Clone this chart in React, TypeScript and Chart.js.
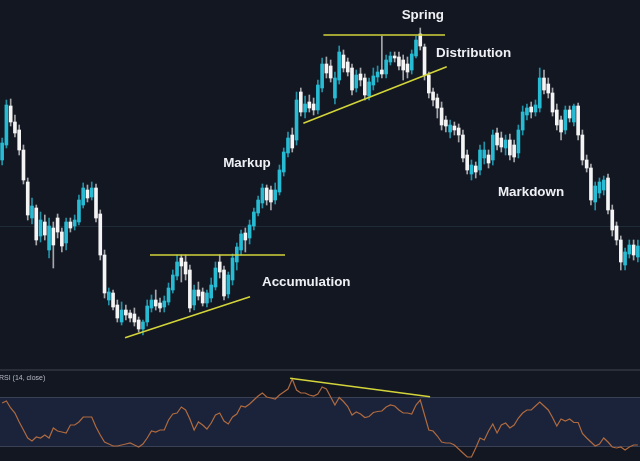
import React, { useEffect, useRef } from "react";
import { Chart, registerables } from "chart.js";

Chart.register(...registerables);

// ---- Price candles (arbitrary price units) ----
const OPEN = [
  210, 225, 264, 248, 240, 220, 188, 152, 162, 134,
  148, 120, 142, 152, 138, 127, 148, 144, 148, 165,
  180, 173, 182, 156, 115, 70, 77, 65, 48, 60,
  57, 56, 50, 41, 48, 62, 70, 67, 63, 68,
  80, 94, 112, 108, 100, 65, 80, 78, 67, 72,
  83, 108, 100, 76, 90, 108, 120, 137, 132, 144,
  157, 167, 182, 180, 170, 178, 198, 217, 235, 230,
  278, 258, 268, 266, 260, 282, 306, 304, 272, 290,
  315, 308, 302, 282, 296, 292, 274, 285, 293, 300,
  296, 308, 314, 313, 310, 306, 300, 314, 336, 323,
  295, 278, 272, 262, 250, 238, 244, 242, 235, 215,
  196, 204, 200, 212, 215, 210, 237, 232, 222, 230,
  225, 217, 240, 255, 263, 258, 262, 292, 286, 277,
  260, 250, 240, 260, 248, 264, 235, 210, 202, 168,
  177, 180, 192, 160, 144, 130, 105, 116, 125, 113,
];
const CLOSE = [
  227, 265, 248, 237, 220, 190, 155, 164, 130, 150,
  135, 144, 125, 138, 124, 148, 142, 150, 170, 182,
  172, 182, 152, 115, 77, 78, 63, 52, 60, 55,
  52, 48, 41, 48, 64, 70, 64, 62, 69, 82,
  95, 108, 104, 96, 62, 80, 74, 67, 77, 85,
  102, 98, 74, 95, 112, 123, 136, 130, 145, 158,
  170, 182, 170, 168, 180, 200, 218, 232, 222, 270,
  258, 266, 262, 260, 285, 306, 297, 292, 292, 318,
  302, 298, 280, 295, 290, 275, 288, 294, 298, 296,
  310, 314, 312, 304, 300, 298, 316, 330, 324, 295,
  277, 270, 262, 245, 244, 245, 240, 235, 212, 200,
  205, 198, 220, 220, 207, 235, 225, 223, 230, 215,
  213, 240, 258, 262, 258, 265, 292, 280, 277, 258,
  245, 238, 260, 252, 264, 235, 210, 202, 170, 184,
  188, 190, 160, 140, 130, 108, 118, 125, 115, 124,
];
const HIGH = [
  232, 270, 271, 255, 245, 225, 192, 172, 165, 158,
  155, 152, 148, 156, 142, 152, 152, 155, 175, 187,
  185, 188, 186, 160, 120, 82, 80, 70, 68, 65,
  60, 62, 53, 50, 70, 75, 80, 72, 74, 87,
  100, 115, 115, 115, 105, 85, 88, 82, 80, 92,
  108, 115, 104, 98, 116, 127, 140, 142, 150, 162,
  174, 186, 185, 184, 187, 205, 222, 238, 242, 278,
  282, 274, 275, 272, 290, 312, 313, 310, 298, 324,
  320, 312, 306, 300, 302, 296, 292, 302, 304, 334,
  315, 318, 318, 318, 315, 313, 320, 334, 342, 326,
  298, 282, 276, 268, 254, 250, 248, 246, 240, 220,
  210, 208, 225, 228, 220, 240, 242, 238, 235, 236,
  230, 245, 264, 266, 268, 270, 302, 300, 292, 282,
  266, 254, 264, 264, 266, 267, 240, 215, 206, 188,
  192, 194, 196, 165, 148, 134, 122, 130, 130, 130,
];
const LOW = [
  205, 222, 244, 233, 215, 186, 150, 146, 125, 128,
  130, 112, 102, 132, 118, 120, 138, 140, 145, 162,
  168, 170, 148, 110, 72, 65, 60, 48, 45, 50,
  48, 44, 38, 35, 44, 58, 60, 58, 58, 65,
  77, 90, 88, 90, 58, 60, 70, 64, 63, 68,
  80, 92, 70, 72, 85, 100, 115, 118, 126, 140,
  154, 162, 165, 160, 166, 175, 194, 213, 218, 225,
  254, 252, 258, 255, 256, 278, 292, 288, 266, 286,
  298, 294, 275, 278, 284, 270, 270, 280, 288, 292,
  292, 305, 308, 300, 290, 292, 296, 312, 320, 290,
  272, 264, 252, 240, 238, 232, 235, 228, 208, 196,
  190, 192, 195, 206, 202, 205, 220, 218, 215, 210,
  208, 212, 235, 250, 252, 254, 258, 276, 272, 254,
  240, 230, 236, 248, 244, 230, 205, 198, 165, 160,
  172, 175, 156, 134, 125, 100, 100, 112, 110, 108,
];

// ---- RSI (14, close) ----
const RSI = [
  65.2, 66.8, 61.2, 57.2, 50, 43.6, 37.2, 34.8, 38, 37.2,
  39.6, 37.2, 45.2, 42.8, 42, 41.2, 47.6, 47.6, 50, 54,
  54, 54, 46, 39.6, 34, 32.4, 30.8, 30.8, 31.6, 32.4,
  33.2, 31.6, 30, 32.4, 37.2, 42.8, 42, 43.6, 43.6, 51.6,
  56.4, 57.2, 62, 59.6, 52.4, 43.6, 50, 47.6, 44.4, 49.2,
  55.6, 57.2, 50.8, 48.4, 54, 56.4, 62.8, 62, 64.4, 67.6,
  70.8, 73.2, 70, 69.2, 68.4, 71.6, 74, 76.4, 84.4, 75.6,
  73.2, 73.2, 71.6, 70.8, 72.4, 78, 76.4, 70, 63.6, 69.6,
  66.4, 62.4, 55.6, 58, 56.4, 53.6, 54.4, 57.6, 58.4, 58.8,
  62, 63.6, 62.8, 59.6, 57.2, 57.2, 56.4, 63.6, 67.6, 55.6,
  43.6, 42.8, 38.8, 34, 33.2, 33.2, 31.6, 28.4, 25.2, 22,
  22, 29.2, 37.2, 35.6, 42.8, 48.4, 41.2, 47.6, 49.2, 45.2,
  47.6, 53.2, 57.2, 59.6, 59.6, 62.8, 66, 62.8, 59.6, 53.6,
  46.8, 52.4, 50.8, 52.4, 49.6, 49.6, 40.8, 37.2, 34, 30.8,
  32.4, 37.2, 34, 30, 29.2, 30, 27.6, 30, 31.6, 31.6,
];
const RSI_UPPER = 70;
const RSI_LOWER = 30;

// ---- Trend lines: [candle index, price] ----
const ACC_RESISTANCE = [[34.65, 115], [66.3, 115]];
const ACC_SUPPORT = [[28.8, 32.3], [58.1, 73.3]];
const DIST_RESISTANCE = [[75.3, 335], [103.8, 335]];
const DIST_SUPPORT = [[70.6, 246.7], [104.2, 303.3]];
const RSI_DIVERGENCE = [[67.5, 85], [100.3, 70.2]];

// ---- Phase labels ----
const PHASE_LABELS = ["Spring", "Distribution", "Markup", "Accumulation", "Markdown"];
const PHASE_X = [98.6, 101.7, 51.8, 60.9, 116.2];
const PHASE_Y = [355, 317, 207, 88, 178];
const PHASE_ALIGN = ["center", "left", "left", "left", "left"];

const PRICE_LEVEL = 144;

const BG = "#131722";
const UP_COLOR = "#27bcd4";
const DOWN_COLOR = "#f4f4f4";
const UP_WICK = "rgba(39,188,212,0.75)";
const DOWN_WICK = "rgba(230,230,230,0.7)";
const TREND_COLOR = "#d2d43a";
const RSI_COLOR = "#b06a40";

const W = 640;
const MAIN_H = 370;
const RSI_TOP = 369;
const RSI_H = 92;

export default function App() {
  const mainRef = useRef<HTMLCanvasElement>(null);
  const rsiRef = useRef<HTMLCanvasElement>(null);

  useEffect(() => {
    const n = OPEN.length;
    const idx = OPEN.map((_, i) => i);
    const up = idx.map((i) => CLOSE[i] >= OPEN[i]);
    const bodyColors = up.map((u) => (u ? UP_COLOR : DOWN_COLOR));
    const wickColors = up.map((u) => (u ? UP_WICK : DOWN_WICK));
    const trendLines = [ACC_RESISTANCE, ACC_SUPPORT, DIST_RESISTANCE, DIST_SUPPORT];

    const mainPlugin = {
      id: "wyckoffDecor",
      beforeDatasetsDraw(chart: any) {
        const { ctx, chartArea, scales } = chart;
        const y = Math.round(scales.y.getPixelForValue(PRICE_LEVEL)) + 0.5;
        ctx.save();
        ctx.strokeStyle = "#1f2b36";
        ctx.lineWidth = 1;
        ctx.beginPath();
        ctx.moveTo(chartArea.left, y);
        ctx.lineTo(chartArea.right, y);
        ctx.stroke();
        ctx.restore();
      },
      afterDatasetsDraw(chart: any) {
        const { ctx, scales } = chart;
        ctx.save();
        ctx.font = 'bold 13.4px "Liberation Sans", Arial, sans-serif';
        ctx.fillStyle = "#eef0f4";
        ctx.textBaseline = "middle";
        PHASE_LABELS.forEach((t, k) => {
          ctx.textAlign = PHASE_ALIGN[k];
          ctx.fillText(t, scales.x.getPixelForValue(PHASE_X[k]), scales.y.getPixelForValue(PHASE_Y[k]));
        });
        ctx.restore();
      },
    };

    const main = new Chart(mainRef.current as HTMLCanvasElement, {
      type: "bar",
      data: {
        datasets: [
          ...trendLines.map((l) => ({
            type: "line" as const,
            data: l.map(([x, y]) => ({ x, y })),
            borderColor: TREND_COLOR,
            borderWidth: 1.6,
            pointRadius: 0,
            fill: false,
            order: 0,
          })),
          {
            type: "bar" as const,
            data: idx.map((i) => ({ x: i, y: [Math.min(OPEN[i], CLOSE[i]), Math.max(OPEN[i], CLOSE[i])] })),
            backgroundColor: bodyColors,
            borderWidth: 0,
            barThickness: 3,
            grouped: false,
            minBarLength: 1,
            order: 1,
          },
          {
            type: "bar" as const,
            data: idx.map((i) => ({ x: i, y: [LOW[i], HIGH[i]] })),
            backgroundColor: wickColors,
            borderWidth: 0,
            barThickness: 1,
            grouped: false,
            order: 2,
          },
        ] as any,
      },
      options: {
        animation: false,
        responsive: false,
        events: [],
        layout: { padding: 0 },
        plugins: { legend: { display: false }, tooltip: { enabled: false } },
        scales: {
          x: { type: "linear", min: -0.5, max: n - 0.5, display: false, offset: false },
          y: { min: 0, max: MAIN_H, display: false },
        },
      } as any,
      plugins: [mainPlugin],
    });

    const rsiPlugin = {
      id: "rsiDecor",
      beforeDatasetsDraw(chart: any) {
        const { ctx, chartArea, scales } = chart;
        const { left, right } = chartArea;
        const yTop = scales.y.getPixelForValue(RSI_UPPER);
        const yBot = scales.y.getPixelForValue(RSI_LOWER);
        ctx.save();
        ctx.fillStyle = "#2a2e39";
        ctx.fillRect(left, 0, right - left, 2);
        ctx.fillStyle = "#1a2339";
        ctx.fillRect(left, yTop, right - left, yBot - yTop);
        ctx.strokeStyle = "rgba(120,124,136,0.35)";
        ctx.lineWidth = 1;
        ctx.beginPath();
        ctx.moveTo(left, Math.round(yTop) + 0.5);
        ctx.lineTo(right, Math.round(yTop) + 0.5);
        ctx.moveTo(left, Math.round(yBot) - 0.5);
        ctx.lineTo(right, Math.round(yBot) - 0.5);
        ctx.stroke();
        ctx.font = '7px "Liberation Sans", Arial, sans-serif';
        ctx.fillStyle = "#b8bbc4";
        ctx.textBaseline = "middle";
        ctx.textAlign = "left";
        ctx.fillText("RSI (14, close)", -1, 9);
        ctx.restore();
      },
    };

    const rsi = new Chart(rsiRef.current as HTMLCanvasElement, {
      type: "line",
      data: {
        datasets: [
          {
            data: RSI_DIVERGENCE.map(([x, y]) => ({ x, y })),
            borderColor: TREND_COLOR,
            borderWidth: 1.6,
            pointRadius: 0,
            fill: false,
            order: 0,
          },
          {
            data: idx.map((i) => ({ x: i, y: RSI[i] })),
            borderColor: RSI_COLOR,
            borderWidth: 1.2,
            pointRadius: 0,
            tension: 0,
            fill: false,
            order: 1,
          },
        ],
      },
      options: {
        animation: false,
        responsive: false,
        events: [],
        layout: { padding: 0 },
        plugins: { legend: { display: false }, tooltip: { enabled: false } },
        scales: {
          x: { type: "linear", min: -0.5, max: n - 0.5, display: false, offset: false },
          y: { min: 18.8, max: 92.4, display: false },
        },
      } as any,
      plugins: [rsiPlugin],
    });

    return () => {
      main.destroy();
      rsi.destroy();
    };
  }, []);

  return (
    <div style={{ position: "fixed", left: 0, top: 0, width: W, height: 461, background: BG, overflow: "hidden" }}>
      <canvas ref={mainRef} width={W} height={MAIN_H} style={{ position: "absolute", left: 0, top: 0 }} />
      <canvas ref={rsiRef} width={W} height={RSI_H} style={{ position: "absolute", left: 0, top: RSI_TOP }} />
    </div>
  );
}
